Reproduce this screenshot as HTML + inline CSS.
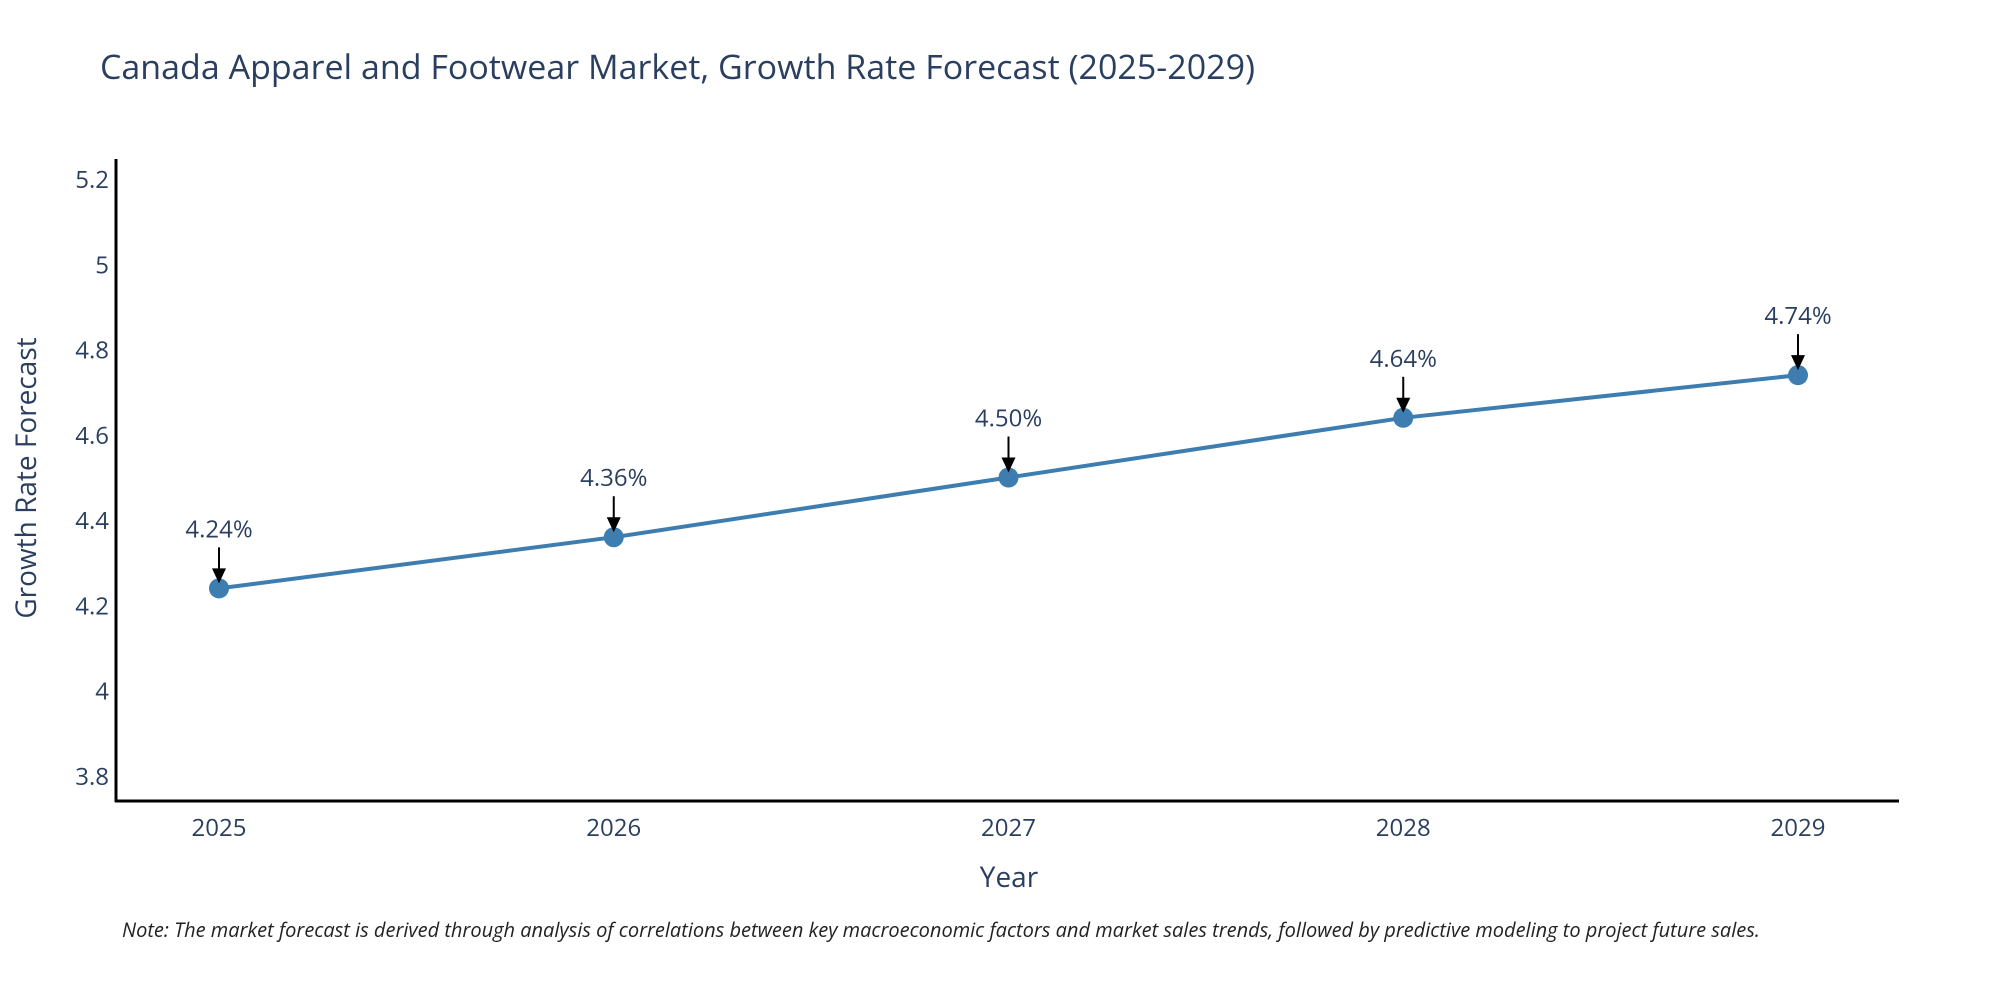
<!DOCTYPE html>
<html><head><meta charset="utf-8"><style>
body{margin:0;background:#fff;}
svg{display:block;font-family:"Open Sans","Liberation Sans","DejaVu Sans",sans-serif;}
</style></head><body>
<svg id="chart" width="2000" height="1000" viewBox="0 0 2000 1000">
<text x="100" y="79" font-size="34" fill="#2a3f5f">Canada Apparel and Footwear Market, Growth Rate Forecast (2025-2029)</text>
<g id="yticks"></g>
<g id="xticks"></g>
<g id="series"></g>
<g id="annots"></g>
<line x1="116" y1="159" x2="116" y2="802" stroke="#000" stroke-width="3"/>
<line x1="115" y1="801" x2="1899" y2="801" stroke="#000" stroke-width="3"/>
<text transform="translate(36,478) rotate(-90)" text-anchor="middle" font-size="28" fill="#2a3f5f">Growth Rate Forecast</text>
<text x="1009" y="887" text-anchor="middle" font-size="28" fill="#2a3f5f">Year</text>
<text x="122" y="937" font-size="20" font-style="italic" fill="#222">Note: The market forecast is derived through analysis of correlations between key macroeconomic factors and market sales trends, followed by predictive modeling to project future sales.</text>
</svg>
<script>
const categories=["2025","2026","2027","2028","2029"];
const values=[4.24,4.36,4.50,4.64,4.74];
const labels=["4.24%","4.36%","4.50%","4.64%","4.74%"];
const yTicks=[3.8,4,4.2,4.4,4.6,4.8,5,5.2];
const yTickLabels=["3.8","4","4.2","4.4","4.6","4.8","5","5.2"];
const NS="http://www.w3.org/2000/svg";
function y(v){return 777-(v-3.8)/1.4*597-1;}
function x(i){return 219+i*394.75;}
function mk(t,a,p){const e=document.createElementNS(NS,t);for(const k in a)e.setAttribute(k,a[k]);p.appendChild(e);return e;}
const yt=document.getElementById('yticks');
yTicks.forEach((v,i)=>{const t=mk('text',{x:109,y:y(v)+9,'text-anchor':'end','font-size':24,fill:'#2a3f5f'},yt);t.textContent=yTickLabels[i];

});
const xt=document.getElementById('xticks');
categories.forEach((c,i)=>{const t=mk('text',{x:x(i),y:836,'text-anchor':'middle','font-size':24,fill:'#2a3f5f'},xt);t.textContent=c;

});
const s=document.getElementById('series');
const pl=mk('polyline',{points:values.map((v,i)=>x(i)+','+y(v)).join(' '),fill:'none',stroke:'#3d7db0','stroke-width':4},s);


values.forEach((v,i)=>{const c=mk('circle',{cx:x(i),cy:y(v),r:10,fill:'#3d7db0'},s);

});
const an=document.getElementById('annots');
values.forEach((v,i)=>{const py=y(v),px=x(i);
const l=mk('line',{x1:px,y1:py-41,x2:px,y2:py-18,stroke:'#000','stroke-width':2},an);


const h=mk('polygon',{points:(px-7)+','+(py-20)+' '+(px+7)+','+(py-20)+' '+px+','+(py-5),fill:'#000'},an);


const t=mk('text',{x:px,y:py-51,'text-anchor':'middle','font-size':24,fill:'#2a3f5f'},an);t.textContent=labels[i];

});
</script>
</body></html>
